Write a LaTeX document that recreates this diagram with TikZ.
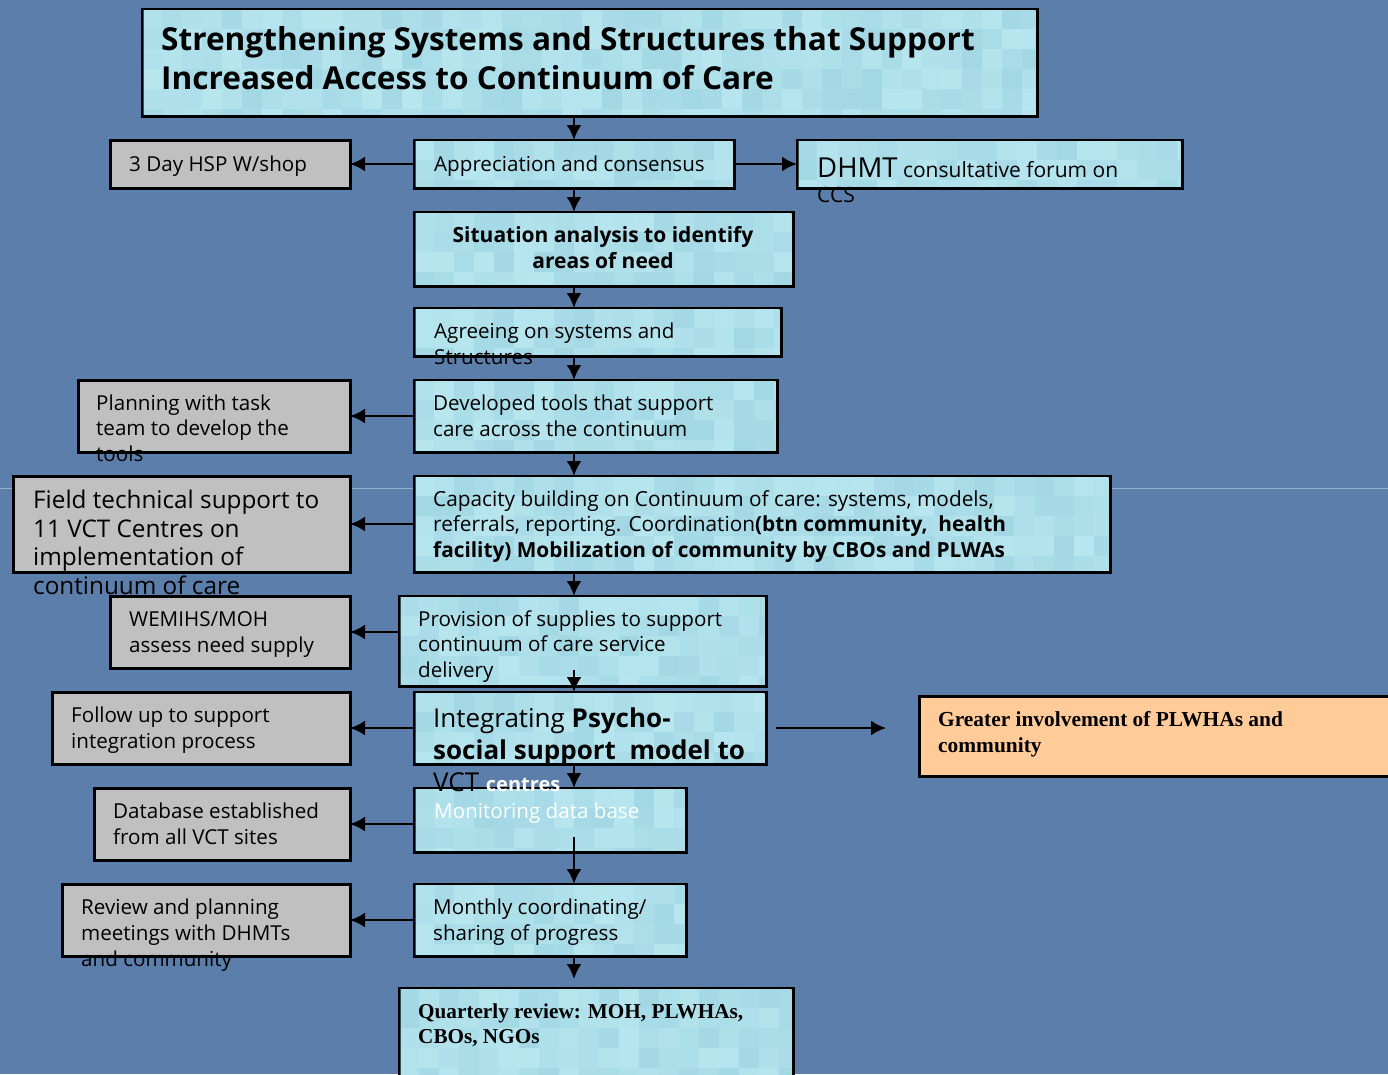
\documentclass[tikz,border=0pt]{standalone}
\usepackage{fontspec}
\setmainfont{Open Sans}
\newfontfamily\tmsfont{Liberation Serif}
\usetikzlibrary{arrows.meta}
\definecolor{bgblue}{RGB}{92,126,170}
\definecolor{bgline}{RGB}{150,175,205}
\definecolor{cyanbox}{RGB}{172,223,233}
\definecolor{tileA}{RGB}{162,215,228}
\definecolor{tileB}{RGB}{183,230,239}
\definecolor{graybox}{RGB}{192,192,192}
\definecolor{orangebox}{RGB}{255,204,153}
\newcommand\fsz[2]{\fontsize{#1}{#2}\selectfont}
% mosaic texture: x, y, width, height (px)
\newcommand\mosaic[4]{%
  \begin{scope}
    \clip (#1+1.5,#2+1.5) rectangle (#1+#3-1.5,#2+#4-1.5);
    \foreach \xx in {0,20,...,#3} {
      \foreach \yy in {0,20,...,#4} {
        \pgfmathtruncatemacro\rr{rnd*100}
        \fill[tileA!\rr!tileB] (#1+\xx,#2+\yy) rectangle ++(20,20);
      }
    }
  \end{scope}}
\begin{document}
\begin{tikzpicture}[x=1pt,y=-1pt,
  box/.style={draw=black, line width=3pt, fill=cyanbox, anchor=north west, inner sep=0pt, outer sep=0pt},
  gbox/.style={box, fill=graybox},
  obox/.style={box, fill=orangebox},
  txt/.style={anchor=base west, inner sep=0pt, align=left, font=\fsz{20.6}{26}},
  arr/.style={line width=2.5pt, -{Latex[length=15pt,width=15pt]}}
]
\pgfmathsetseed{4242}
\useasboundingbox (0,0) rectangle (1388,1074);
\clip (0,0) rectangle (1388,1074);
\fill[bgblue] (0,0) rectangle (1388,1074);
\draw[bgline, line width=1pt] (0,488) -- (1388,488);

% boxes
\node[box, minimum width=895pt, minimum height=107pt] (title) at (142,9) {};
\mosaic{142}{9}{895}{107}
\node[box, minimum width=320pt, minimum height=48pt] (appr) at (414,140) {};
\mosaic{414}{140}{320}{48}
\node[gbox, minimum width=240pt, minimum height=48pt] (hsp) at (110,140) {};
\node[box, minimum width=385pt, minimum height=48pt] (dhmt) at (797,140) {};
\mosaic{797}{140}{385}{48}
\node[box, minimum width=379pt, minimum height=74pt] (sit) at (414,212) {};
\mosaic{414}{212}{379}{74}
\node[box, minimum width=367pt, minimum height=48pt] (agree) at (414,308) {};
\mosaic{414}{308}{367}{48}
\node[box, minimum width=363pt, minimum height=72pt] (tools) at (414,380) {};
\mosaic{414}{380}{363}{72}
\node[gbox, minimum width=272pt, minimum height=72pt] (plan) at (78,380) {};
\node[box, minimum width=696pt, minimum height=96pt] (cap) at (414,476) {};
\mosaic{414}{476}{696}{96}
\node[gbox, minimum width=337pt, minimum height=96pt] (field) at (13,476) {};
\node[box, minimum width=367pt, minimum height=90pt] (prov) at (399,596) {};
\mosaic{399}{596}{367}{90}
\node[gbox, minimum width=240pt, minimum height=72pt] (wem) at (110,596) {};
\node[box, minimum width=352pt, minimum height=72pt] (integ) at (414,692) {};
\mosaic{414}{692}{352}{72}
\node[gbox, minimum width=298pt, minimum height=72pt] (follow) at (52,692) {};
\node[obox, minimum width=490pt, minimum height=80pt] (greater) at (919,696) {};
\node[box, minimum width=272pt, minimum height=64pt] (monit) at (414,788) {};
\mosaic{414}{788}{272}{64}
\node[gbox, minimum width=256pt, minimum height=72pt] (dbase) at (94,788) {};
\node[box, minimum width=272pt, minimum height=72pt] (month) at (414,884) {};
\mosaic{414}{884}{272}{72}
\node[gbox, minimum width=288pt, minimum height=72pt] (review) at (62,884) {};
\node[box, minimum width=394pt, minimum height=110pt] (quart) at (399,988) {};
\mosaic{399}{988}{394}{110}

% texts (anchor = baseline of the last line)
\node[txt, font=\fsz{31.6}{39}\bfseries] (title-t) at (161,89) {Strengthening Systems and Structures that Support\\Increased Access to Continuum of Care};
\node[txt] (appr-t) at (434,171) {Appreciation and consensus};
\node[txt] (hsp-t) at (129,171) {3 Day HSP W/shop};
\node[txt, font=\fsz{21}{25}] (dhmt-t) at (817,202) {{\fsz{27.5}{25}DHMT} consultative forum on\\CCS};
\node[anchor=base, inner sep=0pt, align=center, font=\fsz{21}{26}\bfseries] (sit-t) at (603,268) {Situation analysis to identify\\areas of need};
\node[txt] (agree-t) at (434,364) {Agreeing on systems and\\Structures};
\node[txt] (tools-t) at (433,436) {Developed tools that support\\care across the continuum};
\node[txt, font=\fsz{20.6}{25.5}] (plan-t) at (96,461) {Planning with task\\team to develop the\\tools};
\node[txt, font=\fsz{20.8}{25.5}] (cap-t) at (433,557) {Capacity building on Continuum of care: systems, models,\\referrals, reporting. Coordination\textbf{(btn community,\ \ health}\\\textbf{facility) Mobilization of community by CBOs and PLWAs}};
\node[txt, font=\fsz{24.3}{28.5}] (field-t) at (33,594) {Field technical support to\\11 VCT Centres on\\implementation of\\continuum of care};
\node[txt, font=\fsz{20.6}{25.5}] (prov-t) at (418,677) {Provision of supplies to support\\continuum of care service\\delivery};
\node[txt] (wem-t) at (129,652) {WEMIHS/MOH\\assess need supply};
\node[txt, font=\fsz{26}{32}] (integ-t) at (433,791) {Integrating \textbf{Psycho-}\\\textbf{social support\ \ model to}\\VCT {\color{white}\fsz{20}{32}\bfseries centres}};
\node[txt] (follow-t) at (71,748) {Follow up to support\\integration process};
\node[txt, font=\fsz{21.4}{26}\tmsfont\bfseries] (greater-t) at (938,752) {Greater involvement of PLWHAs and\\community};
\node[txt, text=white] (monit-t) at (434,818) {Monitoring data base};
\node[txt] (dbase-t) at (113,844) {Database established\\from all VCT sites};
\node[txt] (month-t) at (433,940) {Monthly coordinating/\\sharing of progress};
\node[txt] (review-t) at (81,966) {Review and planning\\meetings with DHMTs\\and community};
\node[txt, font=\fsz{21.2}{25}\tmsfont\bfseries] (quart-t) at (418,1043) {Quarterly review: MOH, PLWHAs,\\CBOs, NGOs};

% vertical connectors
\draw[arr] (appr.north |- title.south) -- (appr.north);
\draw[arr] (appr.south) -- (appr.south |- sit.north);
\draw[arr] (appr.south |- sit.south) -- (appr.south |- agree.north);
\draw[arr] (appr.south |- agree.south) -- (appr.south |- tools.north);
\draw[arr] (appr.south |- tools.south) -- (appr.south |- cap.north);
\draw[arr] (appr.south |- cap.south) -- (appr.south |- prov.north);
\draw[arr] ([yshift=16pt]appr.south |- prov.south) -- (appr.south |- integ.north);
\draw[arr] (appr.south |- integ.south) -- (appr.south |- monit.north);
\draw[arr] ([yshift=15pt]appr.south |- monit.south) -- (appr.south |- month.north);
\draw[arr, shorten >=9pt] (appr.south |- month.south) -- (appr.south |- quart.north);

% horizontal connectors
\draw[arr] (appr.west) -- (hsp.east);
\draw[arr] (appr.east) -- (dhmt.west);
\draw[arr] (tools.west) -- (plan.east);
\draw[arr] (cap.west) -- (field.east |- cap.west);
\draw[arr] (prov.west |- wem.east) -- (wem.east);
\draw[arr] (integ.west) -- (follow.east);
\draw[arr, shorten <=10pt, shorten >=33pt] (integ.east) -- (integ.east -| greater.west);
\draw[arr] (monit.west |- dbase.east) -- (dbase.east);
\draw[arr] (month.west) -- (review.east);
\end{tikzpicture}
\end{document}
